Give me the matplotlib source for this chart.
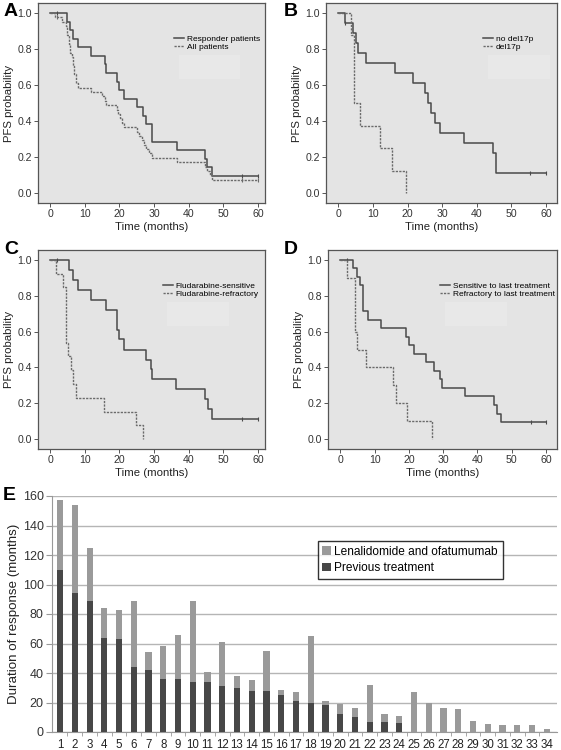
import numpy as np
import matplotlib
matplotlib.use("Agg")
import matplotlib.pyplot as plt
from matplotlib.patches import Rectangle

plt.rcParams['font.family'] = ['Liberation Sans', 'DejaVu Sans']

## Kaplan-Meier curves: (time of step, survival after step)
respA_t = [0, 5.0, 5.8, 6.6, 8.1, 11.8, 15.7, 16.2, 19.3, 19.9, 21.4, 25.0, 26.7, 27.7, 29.5, 36.5, 44.8, 45.4, 46.8, 60]
respA_s = [1.0, 0.952, 0.905, 0.857, 0.810, 0.762, 0.714, 0.667, 0.619, 0.571, 0.524, 0.476, 0.429, 0.381, 0.286, 0.238, 0.190, 0.143, 0.095, 0.095]
allA_t = [0, 1.5, 3.3, 4.5, 5.0, 5.4, 5.8, 6.2, 6.6, 7.0, 7.5, 8.1, 11.8, 15.0, 15.7, 16.2, 19.3, 19.6, 20.2, 20.8, 21.4, 25.0, 25.5, 26.4, 27.1, 27.8, 28.4, 29.5, 36.5, 44.8, 45.4, 46.0, 46.8, 60]
allA_s = [1.0, 0.976, 0.951, 0.927, 0.878, 0.829, 0.780, 0.756, 0.707, 0.659, 0.610, 0.585, 0.561, 0.537, 0.512, 0.488, 0.463, 0.439, 0.415, 0.390, 0.366, 0.341, 0.317, 0.293, 0.268, 0.244, 0.220, 0.195, 0.171, 0.146, 0.122, 0.098, 0.073, 0.073]
respA_cens = [2.0, 55.5, 60]
allA_cens = [2.0, 55.5, 60]

nodel_t = [0, 1.8, 4.3, 5.0, 5.6, 6.7, 8.1, 16.3, 21.6, 25.1, 26.0, 26.7, 27.9, 29.3, 36.4, 44.8, 45.6, 60]
nodel_s = [1.0, 0.944, 0.889, 0.833, 0.778, 0.778, 0.722, 0.667, 0.611, 0.556, 0.500, 0.444, 0.389, 0.333, 0.278, 0.222, 0.111, 0.111]
del_t = [0, 3.6, 4.5, 6.2, 12.0, 15.4, 19.5]
del_s = [1.0, 0.875, 0.500, 0.375, 0.250, 0.125, 0.0]
nodel_cens = [2.0, 55.5, 60]
del_cens = []

fsens_t = [0, 5.5, 6.0, 6.5, 7.9, 11.8, 16.2, 19.3, 19.9, 21.4, 27.6, 29.1, 29.4, 36.3, 44.6, 45.5, 46.7, 60]
fsens_s = [1.0, 0.944, 0.944, 0.889, 0.833, 0.778, 0.722, 0.611, 0.556, 0.500, 0.444, 0.389, 0.333, 0.278, 0.222, 0.167, 0.111, 0.111]
fref_t = [0, 1.6, 3.7, 4.6, 5.1, 6.0, 6.5, 7.5, 15.4, 24.9, 26.7]
fref_s = [1.0, 0.923, 0.846, 0.538, 0.462, 0.385, 0.308, 0.231, 0.154, 0.077, 0.0]
fsens_cens = [2.0, 55.5, 60]
fref_cens = []

lsens_t = [0, 3.6, 5.0, 5.7, 6.5, 8.1, 12.0, 19.2, 19.9, 21.4, 25.1, 27.4, 29.2, 29.6, 36.4, 44.8, 45.6, 46.8, 60]
lsens_s = [1.0, 0.952, 0.905, 0.857, 0.714, 0.667, 0.619, 0.571, 0.524, 0.476, 0.429, 0.381, 0.333, 0.286, 0.238, 0.190, 0.143, 0.095, 0.095]
lref_t = [0, 1.8, 4.4, 5.0, 7.4, 15.4, 16.1, 19.5, 26.7]
lref_s = [1.0, 0.9, 0.6, 0.5, 0.4, 0.3, 0.2, 0.1, 0.0]
lsens_cens = [2.0, 55.5, 60]
lref_cens = []

## Panel E: duration of response per patient
patients = [str(i) for i in range(1, 35)]
previous = [110, 94, 89, 64, 63, 44, 42, 36, 36, 34, 34, 31, 30, 28, 27.5, 25, 21, 20, 18.5, 12.5,
            10, 7, 7, 6, 0, 0, 0, 0, 0, 0, 0, 0, 0, 0]
lenalidomide = [47, 60, 36, 20, 20, 45, 12, 22, 29.5, 55, 7, 30, 8, 7, 27.5, 3.5, 6, 45, 2.5, 6.5,
                6, 25, 5.5, 5, 27, 19.5, 16, 15.5, 7.5, 5.5, 4.5, 4.5, 4.5, 2]

W, H = 561, 750
fig = plt.figure(figsize=(W / 100, H / 100), dpi=100)


def px_axes(left, top, right, bottom):
    return fig.add_axes([left / W, 1 - bottom / H, (right - left) / W, (bottom - top) / H])


def km_value(t_list, s_list, t):
    idx = np.searchsorted(t_list, t, side='right') - 1
    return s_list[idx]


def km_panel(ax, curves, labels, leg_xy, xlim):
    styles = [dict(color='#4a4a4a', lw=1.1, ls='-'),
              dict(color='#6a6a6a', lw=1.0, ls=(0, (1.6, 0.9)))]
    handles = []
    for (t, s, cens), st in zip(curves, styles):
        h, = ax.step(t, s, where='post', **st)
        handles.append(h)
        if cens:
            cy = [km_value(t, s, c) for c in cens]
            ax.plot(cens, cy, ls='none', marker='|', ms=3.5, mew=0.8, color=st['color'])
    ax.set_facecolor('#e4e4e4')
    ax.set_xlim(*xlim)
    ax.set_ylim(-0.055, 1.055)
    ax.set_xticks([0, 10, 20, 30, 40, 50, 60])
    ax.set_yticks([0.0, 0.2, 0.4, 0.6, 0.8, 1.0])
    ax.set_yticklabels(['0.0', '0.2', '0.4', '0.6', '0.8', '1.0'])
    ax.tick_params(labelsize=7.6, length=3, width=0.7, color='#555555', labelcolor='#333333', pad=1.5)
    for sp in ax.spines.values():
        sp.set_color('#555555')
        sp.set_linewidth(0.9)
    ax.set_xlabel('Time (months)', fontsize=8.2, color='#222222', labelpad=2)
    ax.set_ylabel('PFS probability', fontsize=8.2, color='#222222', labelpad=2)
    ax.add_patch(Rectangle((leg_xy[0] + 0.02, leg_xy[1] - 0.22), 0.27, 0.12,
                           transform=ax.transAxes, color='#e8e8e8', zorder=0.5, lw=0))
    ax.legend(handles, labels, loc='upper left', bbox_to_anchor=leg_xy, frameon=False,
              fontsize=6.0, handlelength=1.2, handletextpad=0.3, labelspacing=0.05,
              borderpad=0, borderaxespad=0)


axA = px_axes(38, 3, 265, 203)
km_panel(axA, [(respA_t, respA_s, respA_cens), (allA_t, allA_s, allA_cens)],
         ['Responder patients', 'All patients'], (0.6, 0.84), (-3.5, 62))
axB = px_axes(326, 3, 557, 203)
km_panel(axB, [(nodel_t, nodel_s, nodel_cens), (del_t, del_s, del_cens)],
         ['no del17p', 'del17p'], (0.68, 0.84), (-3.6, 63.2))
axC = px_axes(38, 250, 265, 449)
km_panel(axC, [(fsens_t, fsens_s, fsens_cens), (fref_t, fref_s, fref_cens)],
         ['Fludarabine-sensitive', 'Fludarabine-refractory'], (0.55, 0.84), (-3.5, 62))
axD = px_axes(328, 250, 557, 449)
km_panel(axD, [(lsens_t, lsens_s, lsens_cens), (lref_t, lref_s, lref_cens)],
         ['Sensitive to last treatment', 'Refractory to last treatment'], (0.49, 0.84), (-3.6, 63.2))

## Panel E
axE = px_axes(52, 496, 557, 732)
x = np.arange(1, len(patients) + 1)
axE.bar(x, previous, width=0.42, color='#474747', label='Previous treatment', zorder=3)
axE.bar(x, lenalidomide, width=0.42, bottom=previous, color='#9a9a9a',
        label='Lenalidomide and ofatumumab', zorder=3)
axE.set_xlim(0.45, 34.7)
axE.set_ylim(0, 160)
axE.set_yticks(range(0, 161, 20))
axE.yaxis.grid(True, color='#b5b5b5', lw=1.0, zorder=0)
axE.set_xticks(x)
axE.set_xticklabels(patients)
axE.set_xticks(np.arange(1.5, 34.5, 1), minor=True)
axE.tick_params(axis='x', which='major', length=0, labelsize=8.3, pad=5, labelcolor='#222222')
axE.tick_params(axis='x', which='minor', length=3, color='#999999')
axE.tick_params(axis='y', length=4, color='#999999', labelsize=9, labelcolor='#333333', pad=2)
for s in ['top', 'right']:
    axE.spines[s].set_visible(False)
axE.spines['left'].set_color('#999999')
axE.spines['bottom'].set_color('#999999')
axE.set_ylabel('Duration of response (months)', fontsize=9.6, color='#222222', labelpad=2)
h, l = axE.get_legend_handles_labels()
leg = axE.legend(h[::-1], l[::-1], loc='upper left', bbox_to_anchor=(0.526, 0.81),
                 fontsize=8.6, frameon=True, fancybox=False, edgecolor='black',
                 handlelength=0.7, handleheight=0.7, handletextpad=0.3, borderpad=0.4,
                 labelspacing=0.4, borderaxespad=0)
leg.get_frame().set_linewidth(1.0)

## panel letters
for letter, (lx, ly) in zip('ABCDE', [(11, 12), (291, 12), (11, 249), (291, 249), (9, 496)]):
    fig.text(lx / W, 1 - ly / H, letter, fontsize=14, fontweight='bold', ha='center', va='center')

fig.savefig('out.png', dpi=100)
